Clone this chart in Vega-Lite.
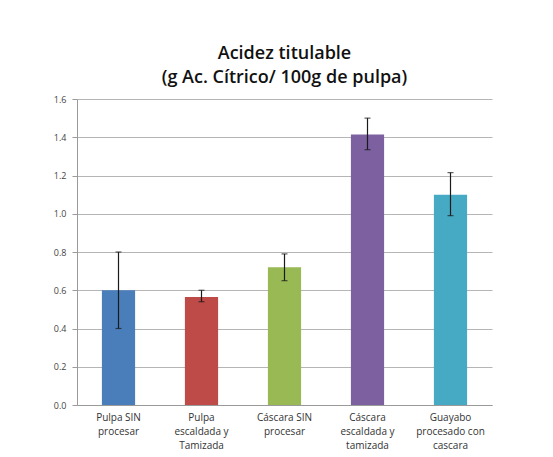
{
  "$schema": "https://vega.github.io/schema/vega-lite/v6.json",
  "width": 415,
  "height": 306,
  "autosize": {"type": "none"},
  "padding": {"left": 77, "top": 99, "right": 61, "bottom": 52},
  "background": "white",
  "title": {
    "text": ["Acidez titulable", "(g Ac. Cítrico/ 100g de pulpa)"],
    "font": "Open Sans",
    "fontSize": 18,
    "fontWeight": 600,
    "color": "#111111",
    "lineHeight": 24,
    "offset": 8,
    "anchor": "middle"
  },
  "data": {
    "values": [
      {"cat": "Pulpa SIN|procesar", "v": 0.6, "lo": 0.4, "hi": 0.8, "c": "c1"},
      {"cat": "Pulpa|escaldada y|Tamizada", "v": 0.565, "lo": 0.54, "hi": 0.6, "c": "c2"},
      {"cat": "Cáscara SIN|procesar", "v": 0.72, "lo": 0.65, "hi": 0.79, "c": "c3"},
      {"cat": "Cáscara|escaldada y|tamizada", "v": 1.415, "lo": 1.335, "hi": 1.5, "c": "c4"},
      {"cat": "Guayabo|procesado con|cascara", "v": 1.1, "lo": 0.99, "hi": 1.215, "c": "c5"}
    ]
  },
  "encoding": {
    "x": {
      "field": "cat",
      "type": "nominal",
      "sort": null,
      "scale": {"paddingInner": 0.6, "paddingOuter": 0.3},
      "axis": {
        "title": null,
        "labelAngle": 0,
        "labelExpr": "split(datum.label, '|')",
        "labelFont": "Open Sans",
        "labelFontSize": 10,
        "labelColor": "#333333",
        "labelLineHeight": 14,
        "labelPadding": 7,
        "ticks": false,
        "domainColor": "#9a9a9a",
        "grid": false
      }
    }
  },
  "layer": [
    {
      "mark": {"type": "bar"},
      "encoding": {
        "y": {
          "field": "v",
          "type": "quantitative",
          "scale": {"domain": [0, 1.6], "nice": false},
          "axis": {
            "title": null,
            "values": [0, 0.2, 0.4, 0.6, 0.8, 1.0, 1.2, 1.4, 1.6],
            "labelOverlap": false,
            "format": ".1f",
            "labelFont": "Open Sans",
            "labelFontSize": 9,
            "labelColor": "#444444",
            "labelPadding": 6,
            "tickSize": 5,
            "tickColor": "#9a9a9a",
            "domainColor": "#9a9a9a",
            "gridColor": "#b5b5b5",
            "gridWidth": 1
          }
        },
        "color": {
          "field": "c",
          "type": "nominal",
          "scale": {
            "domain": ["c1", "c2", "c3", "c4", "c5"],
            "range": ["#4a7ebb", "#be4b48", "#98b954", "#7d60a0", "#46aac5"]
          },
          "legend": null
        }
      }
    },
    {
      "mark": {"type": "rule", "color": "#1a1a1a", "strokeWidth": 1.2},
      "encoding": {
        "y": {"field": "lo", "type": "quantitative", "axis": {"title": null, "values": [0, 0.2, 0.4, 0.6, 0.8, 1.0, 1.2, 1.4, 1.6], "labelOverlap": false, "format": ".1f"}},
        "y2": {"field": "hi"}
      }
    },
    {
      "mark": {"type": "tick", "color": "#1a1a1a", "size": 6, "thickness": 1.2, "orient": "horizontal"},
      "encoding": {
        "y": {"field": "lo", "type": "quantitative", "axis": {"title": null, "values": [0, 0.2, 0.4, 0.6, 0.8, 1.0, 1.2, 1.4, 1.6], "labelOverlap": false, "format": ".1f"}}
      }
    },
    {
      "mark": {"type": "tick", "color": "#1a1a1a", "size": 6, "thickness": 1.2, "orient": "horizontal"},
      "encoding": {
        "y": {"field": "hi", "type": "quantitative", "axis": {"title": null, "values": [0, 0.2, 0.4, 0.6, 0.8, 1.0, 1.2, 1.4, 1.6], "labelOverlap": false, "format": ".1f"}}
      }
    }
  ],
  "config": {
    "view": {"stroke": null},
    "axis": {"domainWidth": 1}
  }
}
